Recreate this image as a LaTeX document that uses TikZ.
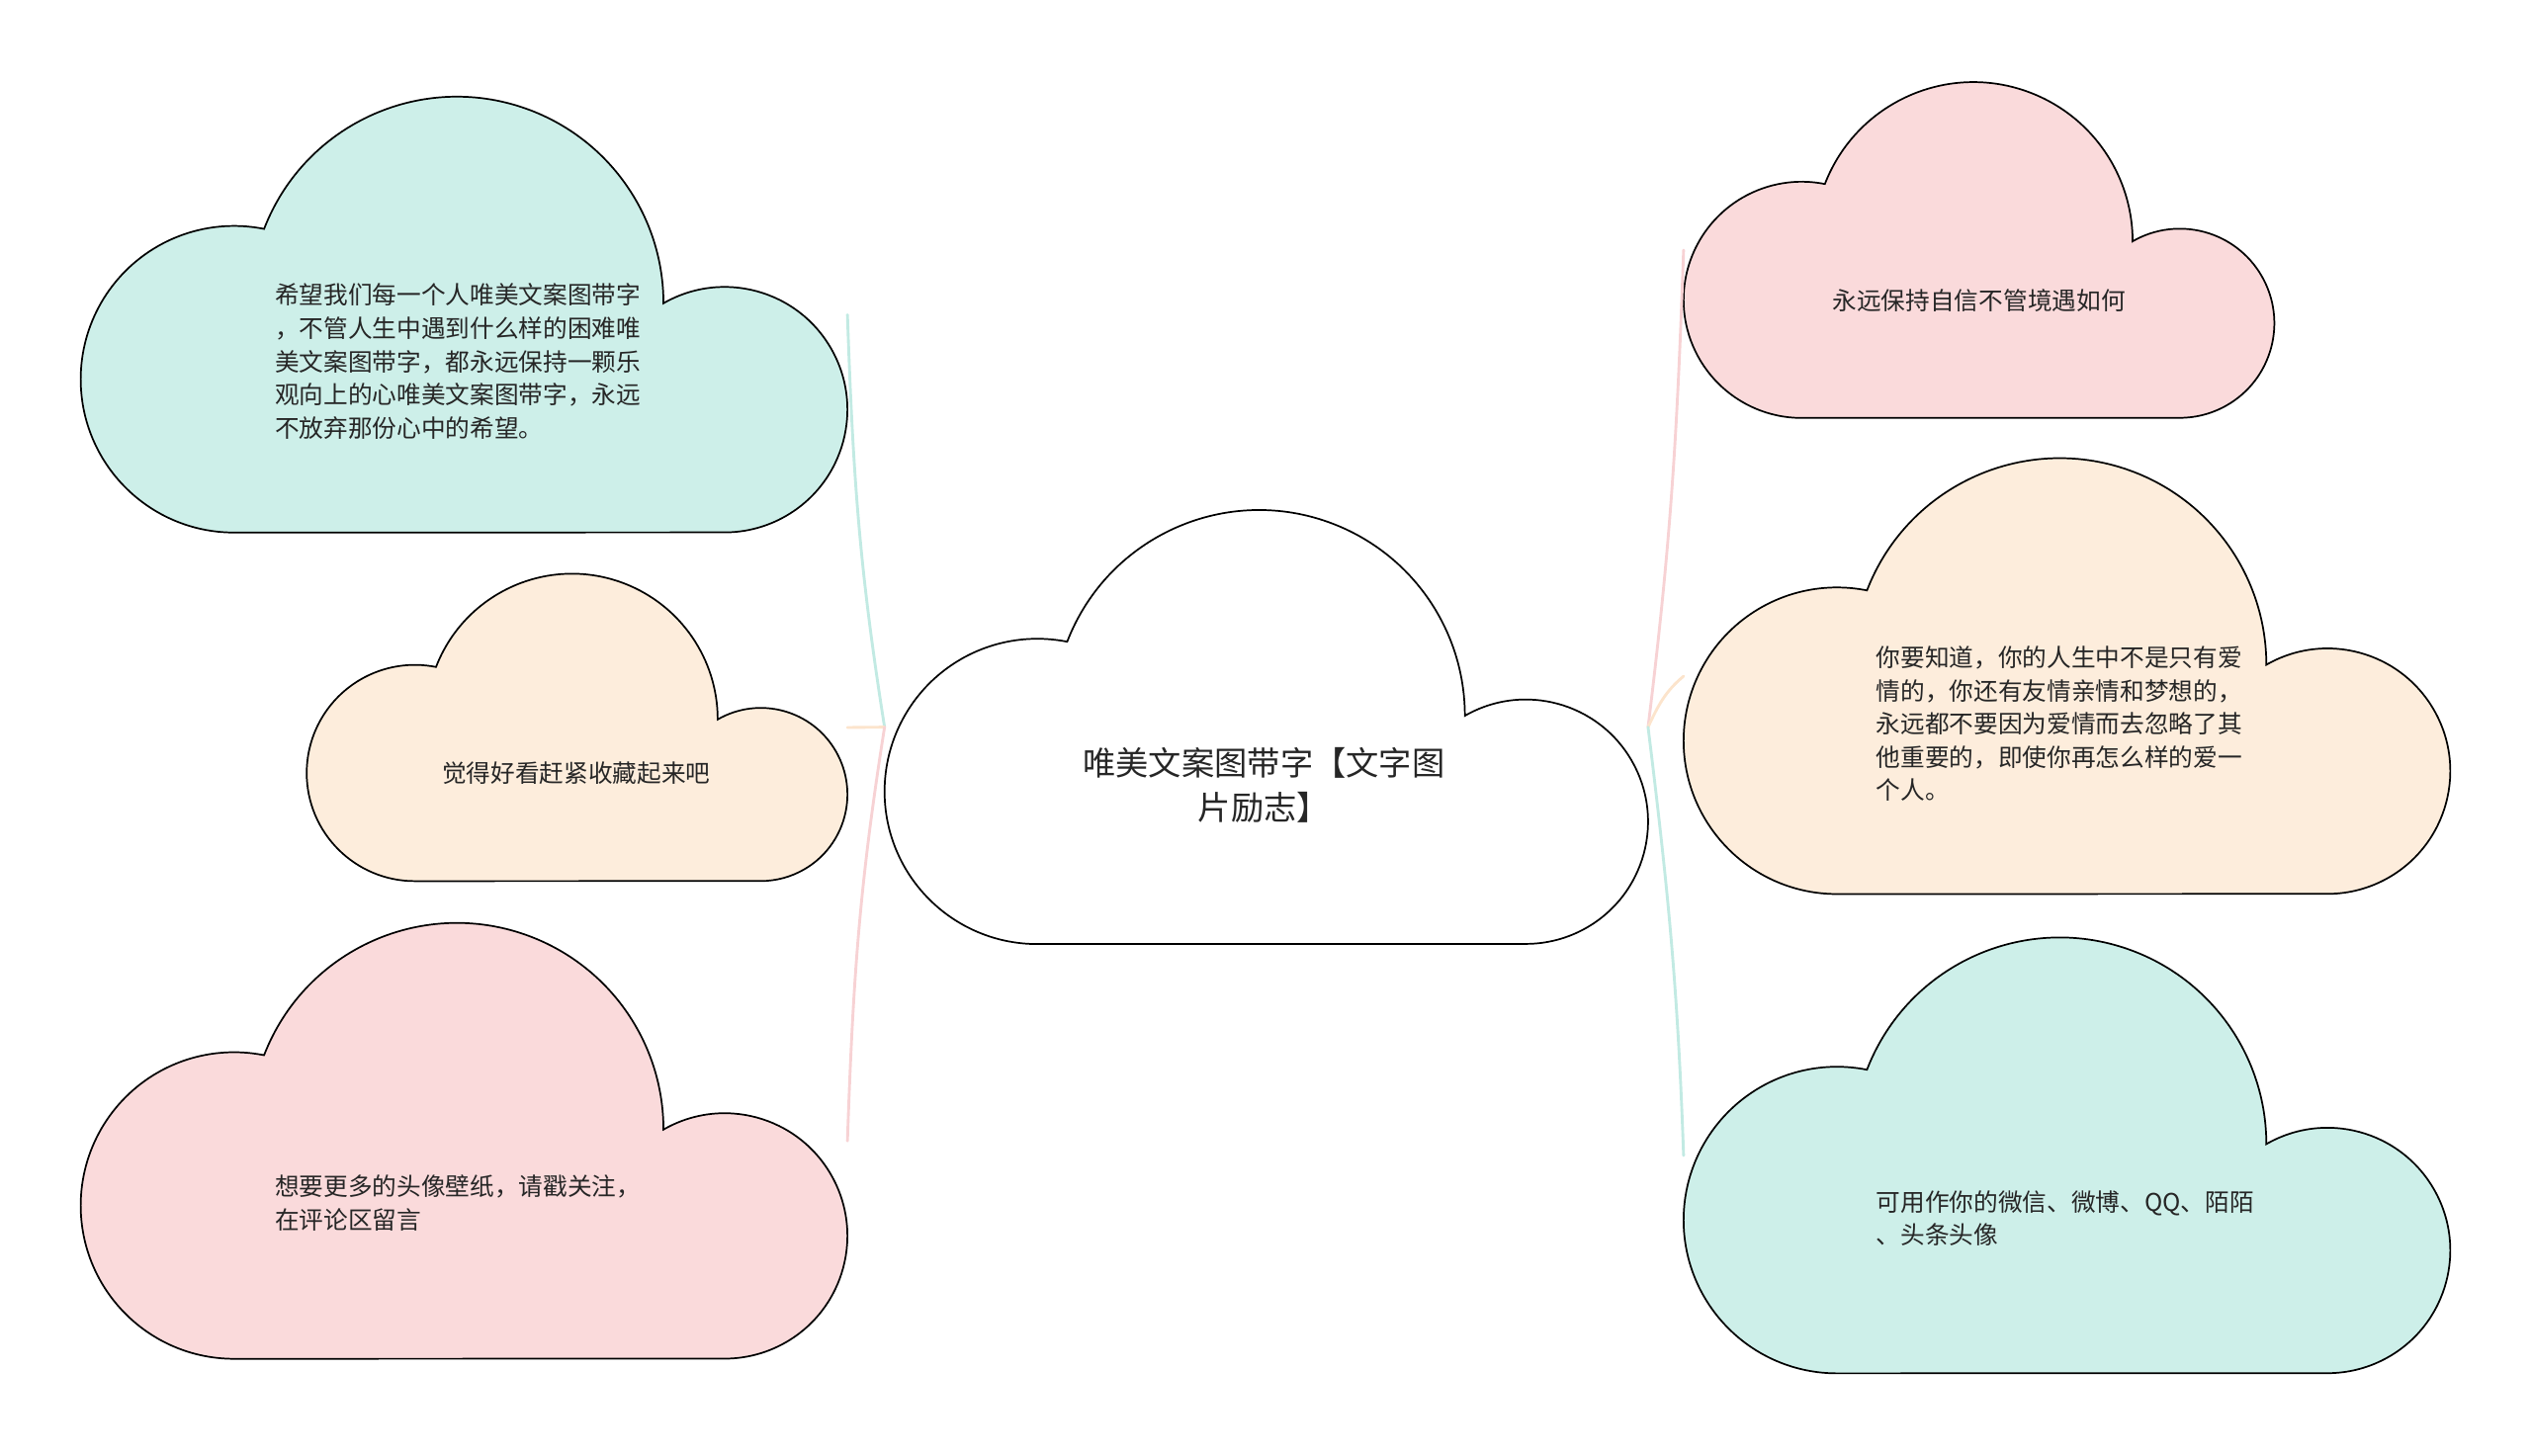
\documentclass[tikz,border=0pt]{standalone}
\usepackage{fontspec}
\newfontfamily\cjk{Noto Sans CJK SC}
\usetikzlibrary{calc}
\definecolor{tealfill}{HTML}{CDEFE9}
\definecolor{pinkfill}{HTML}{FADADB}
\definecolor{peachfill}{HTML}{FDEDDC}
\definecolor{tealline}{HTML}{C2EAE3}
\definecolor{pinkline}{HTML}{F7D2D4}
\definecolor{peachline}{HTML}{FCE4CC}

% cloud outline: #1 name, #2 lower left corner, #3 width, #4 fill
\newcommand{\drawcloud}[4]{%
  \begin{scope}[shift={#2}, scale=#3]
    \filldraw[cloudline, fill=#4] (0.2,0)
      arc[start angle=270, end angle=78.7, radius=0.2]
      arc[start angle=158.9, end angle=0, radius=0.2695]
      arc[start angle=119.9, end angle=-90, radius=0.1601] -- cycle;
    \coordinate (#1-l) at (0,0.2842);
    \coordinate (#1-r) at (1,0.2842);
  \end{scope}}

\begin{document}
\begin{tikzpicture}[x=0.2mm, y=0.2mm,
    cloudline/.style={draw=black, line width=0.6pt},
    notetext/.style={font={\cjk\fontsize{8.6}{11.7}\selectfont}, align=left,
                     inner sep=0pt, text=black!85},
    roottext/.style={font={\cjk\fontsize{11.6}{15.4}\selectfont}, align=center,
                     inner sep=0pt, text=black!85},
    link/.style={line width=1pt, line cap=round},
]
\useasboundingbox (0,0) rectangle (1568,902);

% Clouds
\drawcloud{root}{(548,317)}{473}{white}
\drawcloud{tl}{(50,572)}{475}{tealfill}
\drawcloud{lm}{(190,356)}{335}{peachfill}
\drawcloud{lb}{(50,60)}{475}{pinkfill}
\drawcloud{rt}{(1043,643)}{366}{pinkfill}
\drawcloud{rm}{(1043,348)}{475}{peachfill}
\drawcloud{rb}{(1043,51)}{475}{tealfill}

% Texts
\node[roottext] (root) at (783,415.5) {唯美文案图带字【文字图\\片励志】};
\node[notetext, anchor=west] (tl) at (170,678) {希望我们每一个人唯美文案图带字\\，不管人生中遇到什么样的困难唯\\美文案图带字，都永远保持一颗乐\\观向上的心唯美文案图带字，永远\\不放弃那份心中的希望。};
\node[notetext] (lm) at (357,423) {觉得好看赶紧收藏起来吧};
\node[notetext, anchor=west] (lb) at (170,156.5) {想要更多的头像壁纸，请戳关注，\\在评论区留言};
\node[notetext] (rt) at (1226,716) {永远保持自信不管境遇如何};
\node[notetext, anchor=west] (rm) at (1162,453.5) {你要知道，你的人生中不是只有爱\\情的，你还有友情亲情和梦想的，\\永远都不要因为爱情而去忽略了其\\他重要的，即使你再怎么样的爱一\\个人。};
\node[notetext, anchor=west] (rb) at (1162,147) {可用作你的微信、微博、QQ、陌陌\\、头条头像};

% Links
\draw[link, tealline] (root-l) to[out=99, in=-88] (tl-r);
\draw[link, peachline] (root-l) -- (lm-r);
\draw[link, pinkline] (root-l) to[out=-99, in=88] (lb-r);
\draw[link, pinkline] (root-r) to[out=83, in=-92] (rt-l);
\draw[link, peachline] (root-r) to[out=65, in=-140] (rm-l);
\draw[link, tealline] (root-r) to[out=-83, in=92] (rb-l);
\end{tikzpicture}
\end{document}
